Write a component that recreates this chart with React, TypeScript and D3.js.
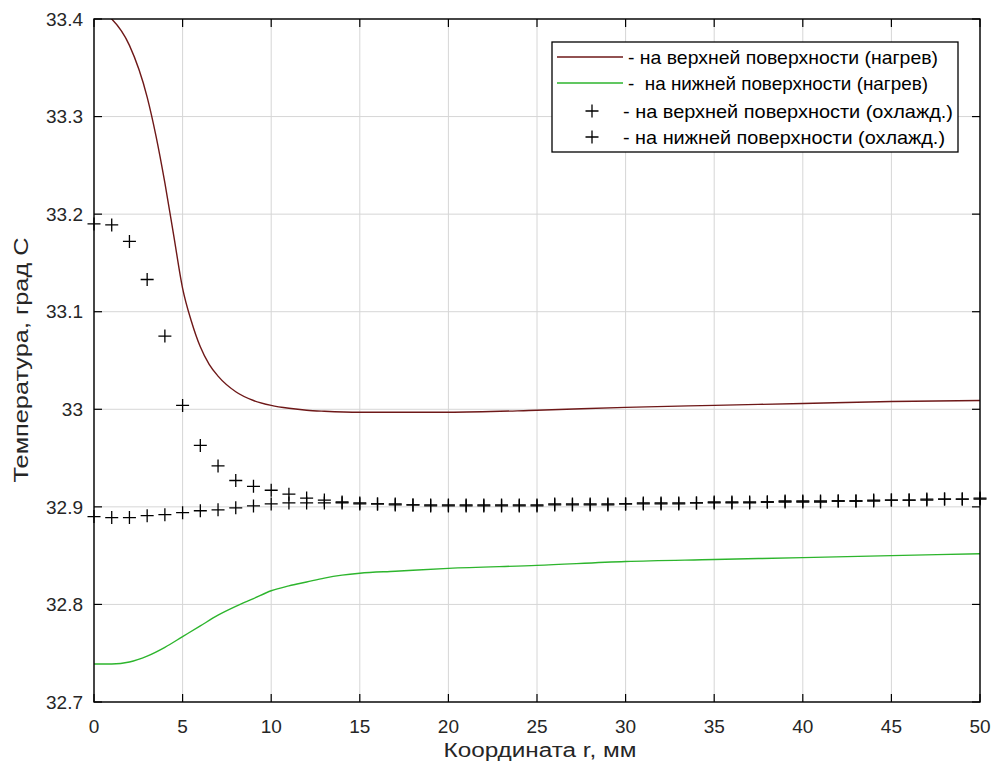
import React from "react";
import * as d3 from "d3";

const heatX = [0, 1, 2, 3, 3.5, 4, 4.5, 5, 5.5, 6, 6.5, 7, 8, 9, 10, 11, 12, 13, 15, 17, 20, 25, 30, 35, 40, 45, 50];
const upperHeat = [33.41, 33.4, 33.373, 33.32, 33.28, 33.232, 33.178, 33.124, 33.09, 33.064, 33.046, 33.034, 33.018, 33.009, 33.004, 33.001, 32.999, 32.998, 32.997, 32.997, 32.997, 32.999, 33.002, 33.004, 33.006, 33.008, 33.009];

const lowerX = [0, 1, 2, 3, 4, 5, 6, 7, 8, 9, 10, 11, 12, 13, 14, 15, 17, 20, 25, 30, 35, 40, 45, 50];
const lowerHeat = [32.739, 32.739, 32.741, 32.747, 32.756, 32.767, 32.778, 32.789, 32.798, 32.806, 32.814, 32.819, 32.823, 32.827, 32.830, 32.832, 32.834, 32.837, 32.840, 32.844, 32.846, 32.848, 32.850, 32.852];

const coolX = d3.range(0, 51);
const upperCool = [
  33.19, 33.189, 33.172, 33.133, 33.075, 33.004, 32.963, 32.942, 32.927, 32.921,
  32.917, 32.913, 32.909, 32.907, 32.905, 32.904, 32.903, 32.903, 32.902, 32.902,
  32.902, 32.902, 32.902, 32.902, 32.902, 32.902, 32.903, 32.903, 32.903, 32.903,
  32.903, 32.904, 32.904, 32.904, 32.904, 32.905, 32.905, 32.905, 32.905, 32.906,
  32.906, 32.906, 32.906, 32.906, 32.907, 32.907, 32.907, 32.907, 32.908, 32.908,
  32.908,
];
const lowerCool = [
  32.89, 32.889, 32.889, 32.891, 32.892, 32.894, 32.896, 32.897, 32.899, 32.901,
  32.903, 32.904, 32.904, 32.904, 32.904, 32.903, 32.903, 32.902, 32.902, 32.901,
  32.901, 32.901, 32.901, 32.901, 32.901, 32.901, 32.902, 32.902, 32.902, 32.902,
  32.903, 32.903, 32.903, 32.903, 32.904, 32.904, 32.904, 32.904, 32.905, 32.905,
  32.905, 32.905, 32.906, 32.906, 32.906, 32.907, 32.907, 32.908, 32.908, 32.908,
  32.909,
];

const xTicks = [0, 5, 10, 15, 20, 25, 30, 35, 40, 45, 50];
const yTicks = [32.7, 32.8, 32.9, 33.0, 33.1, 33.2, 33.3, 33.4];
const yTickLabels = ["32.7", "32.8", "32.9", "33", "33.1", "33.2", "33.3", "33.4"];

const legendLabels = [
  "- на верхней поверхности (нагрев)",
  "-  на нижней поверхности (нагрев)",
  "- на верхней поверхности (охлажд.)",
  "- на нижней поверхности (охлажд.)",
];

const W = 1000;
const H = 771;
const L = 94, R = 980, T = 19, B = 702;
const font = "Liberation Sans, Arial, sans-serif";
const red = "#6e1818";
const green = "#2db52d";
const textCol = "#262626";

export default function App() {
  const x = d3.scaleLinear().domain([0, 50]).range([L, R]);
  const y = d3.scaleLinear().domain([32.7, 33.4]).range([B, T]);
  const line = d3
    .line<[number, number]>()
    .x((d) => x(d[0]))
    .y((d) => y(d[1]))
    .curve(d3.curveMonotoneX);
  const redPath = line(heatX.map((v, i) => [v, upperHeat[i]] as [number, number])) || "";
  const greenPath = line(lowerX.map((v, i) => [v, lowerHeat[i]] as [number, number])) || "";
  const plus = (cx: number, cy: number, k: string) => (
    <path key={k} d={`M${cx - 6.5},${cy}H${cx + 6.5}M${cx},${cy - 6.5}V${cy + 6.5}`} stroke="#000" strokeWidth={1.3} fill="none" />
  );
  const tl = 8;
  const legRows = [57, 83, 111, 137];
  const legX = [628, 628, 623, 623];
  const legLen = [310, 300, 330, 322];
  return (
    <svg width={W} height={H} style={{ position: "absolute", left: 0, top: 0, background: "#fff" }} fontFamily={font}>
      <rect x={0} y={0} width={W} height={H} fill="#fff" />
      <defs>
        <clipPath id="plot">
          <rect x={L} y={T} width={R - L} height={B - T} />
        </clipPath>
      </defs>
      {xTicks.map((t) => (
        <line key={"gx" + t} x1={x(t)} x2={x(t)} y1={T} y2={B} stroke="#d6d6d6" strokeWidth={1} />
      ))}
      {yTicks.map((t) => (
        <line key={"gy" + t} x1={L} x2={R} y1={y(t)} y2={y(t)} stroke="#d6d6d6" strokeWidth={1} />
      ))}
      <g clipPath="url(#plot)">
        <path d={redPath} fill="none" stroke={red} strokeWidth={1.4} />
        <path d={greenPath} fill="none" stroke={green} strokeWidth={1.4} />
      </g>
      {coolX.map((v, i) => plus(x(v), y(upperCool[i]), "u" + i))}
      {coolX.map((v, i) => plus(x(v), y(lowerCool[i]), "l" + i))}
      <rect x={L} y={T} width={R - L} height={B - T} fill="none" stroke="#000" strokeWidth={1.4} />
      {xTicks.map((t) => (
        <g key={"tx" + t}>
          <line x1={x(t)} x2={x(t)} y1={B} y2={B - tl} stroke="#000" strokeWidth={1.2} />
          <line x1={x(t)} x2={x(t)} y1={T} y2={T + tl} stroke="#000" strokeWidth={1.2} />
          <text x={x(t)} y={733} textAnchor="middle" fontSize={19} fill={textCol}>{t}</text>
        </g>
      ))}
      {yTicks.map((t, i) => (
        <g key={"ty" + t}>
          <line x1={L} x2={L + tl} y1={y(t)} y2={y(t)} stroke="#000" strokeWidth={1.2} />
          <line x1={R} x2={R - tl} y1={y(t)} y2={y(t)} stroke="#000" strokeWidth={1.2} />
          <text x={83} y={y(t)} dy="0.35em" textAnchor="end" fontSize={19} fill={textCol}>{yTickLabels[i]}</text>
        </g>
      ))}
      <text x={540} y={757} textAnchor="middle" fontSize={20} fill={textCol} textLength={193} lengthAdjust="spacingAndGlyphs">Координата r, мм</text>
      <text transform={`translate(28,360) rotate(-90)`} textAnchor="middle" fontSize={21} fill={textCol} textLength={245} lengthAdjust="spacingAndGlyphs">Температура, град С</text>
      <rect x={552} y={42} width={406} height={110} fill="#fff" stroke="#000" strokeWidth={1.3} />
      <line x1={557} x2={623} y1={legRows[0]} y2={legRows[0]} stroke={red} strokeWidth={1.4} />
      <line x1={557} x2={623} y1={legRows[1]} y2={legRows[1]} stroke={green} strokeWidth={1.4} />
      {plus(592, legRows[2], "lg1")}
      {plus(592, legRows[3], "lg2")}
      {legendLabels.map((s, i) => (
        <text key={"lt" + i} x={legX[i]} y={legRows[i]} dy="0.35em" fontSize={19} fill="#000" textLength={legLen[i]} lengthAdjust="spacingAndGlyphs" style={{ whiteSpace: "pre" }}>{s}</text>
      ))}
    </svg>
  );
}
